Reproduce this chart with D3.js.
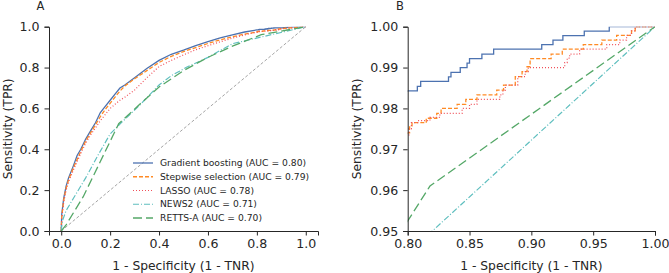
<!DOCTYPE html>
<html><head><meta charset="utf-8">
<script src="https://cdn.jsdelivr.net/npm/d3@7"></script>
<style>
body{margin:0;background:#fff;}
svg{display:block;font-family:"DejaVu Sans",sans-serif;}
</style></head>
<body><svg id="c" width="669" height="273"></svg>
<script>
// ---------- data ----------
const modelNames = ["Gradient boosting (AUC = 0.80)","Stepwise selection (AUC = 0.79)","LASSO (AUC = 0.78)","NEWS2 (AUC = 0.71)","RETTS-A (AUC = 0.70)"];

const headFpr = [0,0.002,0.01,0.02,0.03,0.05,0.065,0.08,0.1,0.12,0.14,0.16,0.18,0.2,0.22,0.24,0.26,0.3,0.35,0.4,0.45,0.5,0.55,0.6,0.65,0.7,0.75,0.8];
const gbTpr    = [0,0.08,0.16,0.22,0.26,0.32,0.37,0.40,0.45,0.49,0.53,0.58,0.61,0.64,0.67,0.70,0.715,0.75,0.795,0.835,0.865,0.885,0.907,0.927,0.945,0.96,0.974,0.9843];
const swTpr    = [0,0.07,0.15,0.21,0.25,0.31,0.35,0.39,0.44,0.48,0.52,0.56,0.595,0.625,0.655,0.685,0.71,0.745,0.785,0.825,0.855,0.878,0.898,0.918,0.936,0.951,0.964,0.974];
const lassoTpr = [0,0.06,0.14,0.2,0.24,0.30,0.34,0.38,0.43,0.47,0.505,0.54,0.57,0.60,0.62,0.64,0.655,0.69,0.75,0.805,0.835,0.862,0.887,0.907,0.926,0.944,0.96,0.9735];

const gbTailFpr = [0.8078,0.8105,0.8330,0.8350,0.8425,0.8480,0.8500,0.8600,0.8695,0.9084,0.9175,0.9255,0.9428,0.9630];
const gbTailTpr = [0.9854,0.9866,0.9877,0.9888,0.9900,0.9911,0.9922,0.9933,0.9945,0.9956,0.9967,0.9978,0.9989,1.0];
const swTailFpr = [0.8015,0.8035,0.8150,0.8235,0.8270,0.8400,0.8470,0.8560,0.8720,0.8775,0.8870,0.8925,0.8965,0.8990,0.9160,0.9250,0.9420,0.9570,0.9690,0.9810,0.9840];
const swTailTpr = [0.9755,0.9765,0.9776,0.9788,0.9800,0.9810,0.9822,0.9833,0.9845,0.9857,0.9878,0.9890,0.9902,0.9922,0.9933,0.9945,0.9956,0.9967,0.9979,0.9990,1.0];
const lassoTailFpr = [0.8010,0.8030,0.8080,0.8180,0.8260,0.8440,0.8500,0.8560,0.8745,0.8770,0.8790,0.8890,0.8950,0.8975,0.9270,0.9290,0.9310,0.9390,0.9610,0.9715,0.9770,0.9810,0.9840];
const lassoTailTpr = [0.9750,0.9765,0.9770,0.9778,0.9788,0.9800,0.9810,0.9822,0.9833,0.9845,0.9857,0.9878,0.9890,0.9900,0.9912,0.9923,0.9933,0.9945,0.9956,0.9967,0.9979,0.9990,1.0];

const newsFpr = [0,0.005,0.02,0.05,0.1,0.15,0.2,0.25,0.32,0.4,0.45,0.51,0.6,0.7,1.0];
const newsTpr = [0,0.05,0.1,0.16,0.26,0.37,0.475,0.535,0.615,0.715,0.76,0.80,0.85,0.9167,1.0];
const rettsFpr = [0,0.02,0.09,0.235,0.33,0.4,0.5,0.6,0.7,0.818,1.0];
const rettsTpr = [0,0.03,0.168,0.525,0.63,0.705,0.785,0.85,0.905,0.961,1.0];

const ticksA = [0,0.2,0.4,0.6,0.8,1.0];
const ticksBx = [0.80,0.85,0.90,0.95,1.00];
const ticksBy = [0.95,0.96,0.97,0.98,0.99,1.00];

// ---------- build point lists ----------
function zipPts(xs, ys){ return xs.map((x,i)=>[x, ys[i]]); }
function withSteps(hx, hy, tx, ty){
  const pts = zipPts(hx, hy);
  let prev = hy[hy.length-1];
  tx.forEach((x,i)=>{ pts.push([x, prev]); pts.push([x, ty[i]]); prev = ty[i]; });
  pts.push([1.0, 1.0]);
  return pts;
}
const series = [
  {pts: withSteps(headFpr, gbTpr, gbTailFpr, gbTailTpr), color:"#4c72b0", dash:null, w:1.3},
  {pts: withSteps(headFpr, swTpr, swTailFpr, swTailTpr), color:"#ff8a24", dash:"4,2", w:1.3},
  {pts: withSteps(headFpr, lassoTpr, lassoTailFpr, lassoTailTpr), color:"#f0505a", dash:"1,2", w:1.2},
  {pts: zipPts(newsFpr, newsTpr), color:"#5fbfbf", dash:"6,2,1,2", w:1.2},
  {pts: zipPts(rettsFpr, rettsTpr), color:"#55a868", dash:"9,4", w:1.3}
];

const svg = d3.select("#c");
const txt = "#262626";

function panel(opts){
  const {x0,x1,y0,y1,xd,yd,xt,yt,fmt,clipId,diag,letter,letterX,ylabX,legend} = opts;
  const x = d3.scaleLinear().domain(xd).range([x0,x1]);
  const y = d3.scaleLinear().domain(yd).range([y1,y0]);
  svg.append("clipPath").attr("id",clipId).append("rect")
     .attr("x",x0).attr("y",y0).attr("width",x1-x0).attr("height",y1-y0);
  const g = svg.append("g").attr("clip-path",`url(#${clipId})`);
  const line = d3.line().x(d=>x(d[0])).y(d=>y(d[1]));
  if(diag){
    g.append("path").attr("d",line([[0,0],[1,1]])).attr("fill","none")
     .attr("stroke","#9a9a9a").attr("stroke-width",0.9).attr("stroke-dasharray","3,2");
  }
  series.forEach(s=>{
    g.append("path").attr("d",line(s.pts)).attr("fill","none")
      .attr("stroke",s.color).attr("stroke-width",s.w)
      .attr("stroke-dasharray",s.dash);
  });
  const xa = svg.append("g").attr("transform",`translate(0,${y1})`)
    .call(d3.axisBottom(x).tickValues(xt).tickFormat(d3.format(fmt)).tickSizeOuter(0).tickSize(4.5).tickPadding(4));
  const ya = svg.append("g").attr("transform",`translate(${x0},0)`)
    .call(d3.axisLeft(y).tickValues(yt).tickFormat(d3.format(fmt)).tickSizeOuter(0).tickSize(4.5).tickPadding(5));
  [xa,ya].forEach(a=>{
    a.selectAll("path,line").attr("stroke",txt).attr("stroke-width",1);
    a.selectAll("text").attr("fill",txt).style("font-size","12.6px").style("font-family","DejaVu Sans");
  });
  svg.append("text").attr("x",(x0+x1)/2).attr("y",270).attr("text-anchor","middle")
    .attr("fill",txt).style("font-size","12.3px").text("1 - Specificity (1 - TNR)");
  svg.append("text").attr("transform",`translate(${ylabX},${(y0+y1)/2}) rotate(-90)`)
    .attr("text-anchor","middle").attr("fill",txt).style("font-size","12.3px").text("Sensitivity (TPR)");
  svg.append("text").attr("x",letterX).attr("y",10).attr("text-anchor","middle")
    .attr("fill",txt).style("font-size","11.5px").text(letter);
  if(legend){
    const lg = svg.append("g");
    const ly = d3.scalePoint().domain(d3.range(series.length)).range([163,218]);
    series.forEach((s,i)=>{
      lg.append("line").attr("x1",133).attr("x2",153).attr("y1",ly(i)).attr("y2",ly(i))
        .attr("stroke",s.color).attr("stroke-width",s.w).attr("stroke-dasharray",s.dash);
      lg.append("text").attr("x",160).attr("y",ly(i)).attr("dy","0.35em")
        .attr("fill",txt).style("font-size","9.2px").text(modelNames[i]);
    });
  }
}

panel({x0:49,x1:318,y0:26.7,y1:231,xd:[-0.05,1.05],yd:[0,1],xt:ticksA,yt:ticksA,fmt:".1f",
  clipId:"ca",diag:true,letter:"A",letterX:40.5,ylabX:11.5,legend:true});
panel({x0:407.7,x1:655,y0:26.7,y1:231,xd:[0.8,1.0],yd:[0.95,1.0],xt:ticksBx,yt:ticksBy,fmt:".2f",
  clipId:"cb",diag:false,letter:"B",letterX:400,ylabX:361,legend:false});
</script></body></html>
